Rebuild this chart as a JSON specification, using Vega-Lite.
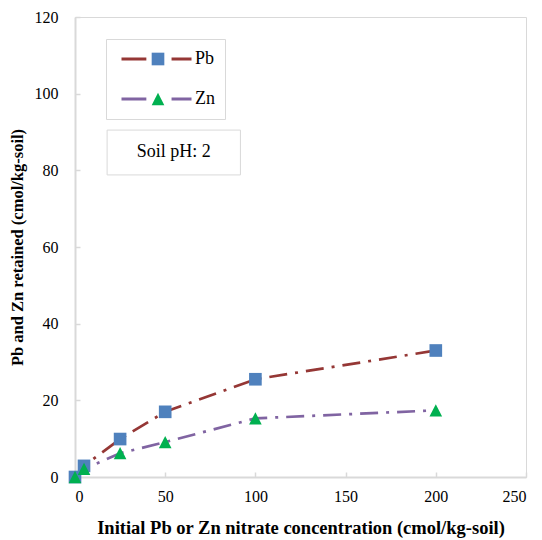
{
  "$schema": "https://vega.github.io/schema/vega-lite/v6.json",
  "width": 451,
  "height": 460,
  "autosize": {"type": "none"},
  "padding": {"left": 75, "top": 17, "right": 16, "bottom": 63},
  "background": "white",
  "config": {
    "view": {"stroke": "#d9d9d9", "strokeWidth": 1},
    "font": "Liberation Serif",
    "axis": {
      "grid": false,
      "domainColor": "#d9d9d9",
      "domainWidth": 2,
      "tickColor": "#d9d9d9",
      "tickWidth": 1.5,
      "labelFont": "Liberation Serif",
      "labelFontSize": 16,
      "labelColor": "#000000",
      "titleFont": "Liberation Serif",
      "titleFontWeight": "bold",
      "titleColor": "#000000"
    }
  },
  "data": {
    "values": [
      {"series": "Pb", "conc": 0, "ret": 0},
      {"series": "Pb", "conc": 5, "ret": 2.9},
      {"series": "Pb", "conc": 25, "ret": 9.9},
      {"series": "Pb", "conc": 50, "ret": 17.0},
      {"series": "Pb", "conc": 100, "ret": 25.5},
      {"series": "Pb", "conc": 200, "ret": 33.0},
      {"series": "Zn", "conc": 0, "ret": 0},
      {"series": "Zn", "conc": 5, "ret": 2.1},
      {"series": "Zn", "conc": 25, "ret": 6.2},
      {"series": "Zn", "conc": 50, "ret": 9.1},
      {"series": "Zn", "conc": 100, "ret": 15.3},
      {"series": "Zn", "conc": 200, "ret": 17.4}
    ]
  },
  "layer": [
    {
      "mark": {"type": "line", "strokeWidth": 2.7, "strokeDash": [18, 8, 3, 8], "strokeCap": "butt"},
      "encoding": {
        "x": {
          "field": "conc", "type": "quantitative",
          "scale": {"domain": [0, 250], "nice": false},
          "axis": {"values": [0, 50, 100, 150, 200, 250], "tickSize": -5, "labelPadding": 16, "title": "Initial  Pb or Zn nitrate concentration (cmol/kg-soil)", "titleFontSize": 18.5, "titlePadding": 14}
        },
        "y": {
          "field": "ret", "type": "quantitative",
          "scale": {"domain": [0, 120], "nice": false},
          "axis": {"values": [0, 20, 40, 60, 80, 100, 120], "tickSize": -5, "labelPadding": 22, "title": "Pb and Zn retained (cmol/kg-soil)", "titleFontSize": 16.5, "titlePadding": 9}
        },
        "color": {
          "field": "series", "type": "nominal",
          "scale": {"domain": ["Pb", "Zn"], "range": ["#953735", "#8064A2"]},
          "legend": {
            "title": null,
            "orient": "none",
            "legendX": 31,
            "legendY": 22,
            "padding": 10,
            "strokeColor": "#d9d9d9",
            "symbolType": "M-1,0H-0.29M0.43,0H1",
            "symbolSize": 4900,
            "symbolOffset": 4,
            "symbolStrokeWidth": 3,
            "symbolDash": [],
            "clipHeight": 20,
            "rowPadding": 20,
            "labelFont": "Liberation Serif",
            "labelFontSize": 18,
            "labelColor": "#000000",
            "labelOffset": 2,
            "labelExpr": "datum.label + '    '"
          }
        }
      }
    },
    {
      "mark": {"type": "point", "filled": true, "opacity": 1, "size": 160},
      "encoding": {
        "x": {"field": "conc", "type": "quantitative"},
        "y": {"field": "ret", "type": "quantitative"},
        "fill": {
          "field": "series", "type": "nominal",
          "scale": {"range": ["#4F81BD", "#00B050"]},
          "legend": {
            "title": null,
            "orient": "none",
            "legendX": 64,
            "legendY": 22,
            "padding": 10,
            "symbolSize": 160,
            "clipHeight": 20,
            "rowPadding": 20,
            "labelFontSize": 18,
            "labelColor": "transparent"
          }
        },
        "shape": {
          "field": "series", "type": "nominal",
          "scale": {"range": ["square", "M0,-0.97L1,0.97H-1Z"]},
          "legend": {
            "title": null,
            "orient": "none",
            "legendX": 64,
            "legendY": 22,
            "padding": 10,
            "symbolSize": 160,
            "clipHeight": 20,
            "rowPadding": 20,
            "labelFontSize": 18,
            "labelColor": "transparent"
          }
        }
      }
    },
    {
      "data": {"values": [{}]},
      "mark": {"type": "rect", "fill": "white", "stroke": "#d9d9d9", "strokeWidth": 1},
      "encoding": {
        "x": {"datum": 17.8},
        "x2": {"datum": 91.7},
        "y": {"datum": 90.5},
        "y2": {"datum": 78.8}
      }
    },
    {
      "data": {"values": [{}]},
      "mark": {"type": "text", "font": "Liberation Serif", "fontSize": 18, "fontWeight": "normal", "color": "#000000", "align": "center", "baseline": "middle"},
      "encoding": {
        "x": {"datum": 54.7},
        "y": {"datum": 84.7},
        "text": {"value": "Soil pH: 2"}
      }
    }
  ]
}
